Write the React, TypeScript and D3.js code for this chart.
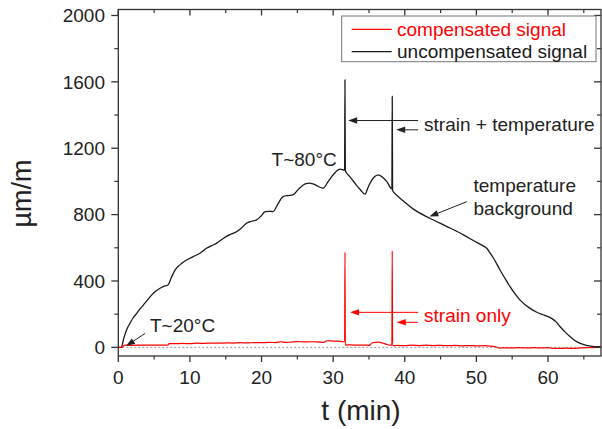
import React from "react";
import * as d3 from "d3";

// ---- data (t in min, value in µm/m) ----
const uncompT = [0, 0.4, 0.8, 1.2, 1.63, 2.1, 2.57, 3.0, 3.49, 4.2, 4.89, 5.6, 6.28, 6.98, 7.4, 7.92, 8.6, 9.3, 10.0, 10.7, 11.4, 12.3, 13.0, 13.7, 14.7, 15.5, 16.5, 17.2, 17.9, 18.6, 19.3, 19.9, 20.5, 21.0, 21.6, 22.3, 23.0, 23.7, 24.4, 25.2, 26.1, 26.7, 27.2, 28.0, 28.6, 29.3, 30.1, 30.96, 31.6, 31.65, 31.7, 32.3, 33.05, 33.8, 34.45, 34.8, 35.15, 35.7, 36.3, 36.9, 37.5, 38.2, 38.25, 38.3, 39.0, 39.6, 41.2, 43.5, 45.9, 48.2, 50.1, 51.0, 51.45, 51.9, 52.4, 53.3, 54.0, 54.7, 55.4, 56.1, 57.5, 58.5, 59.4, 60.5, 61.1, 61.7, 62.4, 63.1, 63.8, 64.5, 65.2, 65.9, 67.4];
const uncompV = [0, 0, 60, 110, 145, 180, 205, 230, 255, 292, 326, 350, 366, 378, 420, 466, 497, 520, 537, 552, 567, 597, 612, 627, 658, 678, 697, 720, 748, 760, 768, 790, 818, 820, 818, 865, 909, 915, 919, 955, 985, 990, 985, 968, 959, 999, 1045, 1074, 1068, 1612, 1064, 1030, 989, 950, 923, 955, 989, 1025, 1040, 1025, 999, 955, 1512, 945, 912, 889, 833, 778, 728, 678, 631, 610, 597, 570, 537, 466, 415, 366, 322, 285, 235, 210, 195, 175, 155, 124, 92, 64, 40, 24, 14, 8, 4];

const compT = [0, 0.5, 0.9, 2, 3, 4, 5, 6, 6.9, 7.1, 8, 9, 10, 11, 12, 13, 14, 15, 16, 17, 18, 19, 20, 21, 22, 22.7, 23.3, 24, 25, 26, 27, 28, 28.7, 29.1, 30, 31, 31.6, 31.65, 31.7, 32.5, 33.5, 34.5, 35, 35.5, 36.3, 37, 37.6, 38.2, 38.25, 38.3, 39, 40, 41, 42, 43, 44, 45, 46, 47, 48, 49, 50, 51, 52, 52.8, 53.3, 54, 55, 56, 57, 58, 59, 60, 60.6, 61.5, 62.5, 63.5, 64.5, 65.5, 67.4];
const compV = [0, 0, 14, 12, 14, 13, 14, 13, 14, 22, 22, 24, 22, 25, 24, 26, 25, 27, 26, 28, 27, 29, 28, 30, 29, 34, 30, 31, 35, 33, 34, 32, 30, 40, 38, 36, 34, 573, 14, 15, 13, 14, 12, 28, 32, 25, 16, 13, 581, 10, 12, 10, 13, 11, 13, 11, 12, 10, 12, 9, 11, 9, 10, 8, 2, -4, -3, -3, -2, -3, -2, -3, -2, -6, -6, -5, -6, -3, -1, 0];

const xTicks = [0, 10, 20, 30, 40, 50, 60];
const yTicks = [0, 400, 800, 1200, 1600, 2000];
const seriesNames = ["compensated signal", "uncompensated signal"];
const seriesColors = ["#ff0000", "#1a1a1a"];

const W = 602, H = 429;
const FONT = "'Liberation Sans', Arial, sans-serif";

export default function App() {
  const x = d3.scaleLinear().domain([0, 67.4]).range([118.3, 601]);
  const y = d3.scaleLinear().domain([-52, 2036]).range([356, 9.5]);
  const [x0, x1] = x.range();
  const [yb, yt] = y.range();

  const line = d3.line<[number, number]>().x((d) => x(d[0])).y((d) => y(d[1])).curve(d3.curveMonotoneX);
  const uncomp = uncompT.map((t, i) => [t, uncompV[i]] as [number, number]);
  const comp = compT.map((t, i) => [t, compV[i]] as [number, number]);

  const xMinor = d3.range(5, 67.4, 10);
  const yMinor = d3.range(200, 2036, 400);

  const arrow = (tx: number, ty: number, hx: number, hy: number, color: string, key: string) => {
    const ax = x(tx), ay = y(ty), bx = x(hx), by = y(hy);
    const ang = Math.atan2(by - ay, bx - ax);
    const L = 9, Wd = 3.2;
    const p1 = [bx - L * Math.cos(ang) + Wd * Math.sin(ang), by - L * Math.sin(ang) - Wd * Math.cos(ang)];
    const p2 = [bx - L * Math.cos(ang) - Wd * Math.sin(ang), by - L * Math.sin(ang) + Wd * Math.cos(ang)];
    return (
      <g key={key}>
        <line x1={ax} y1={ay} x2={bx - 6 * Math.cos(ang)} y2={by - 6 * Math.sin(ang)} stroke={color} strokeWidth={1} />
        <polygon points={`${bx},${by} ${p1[0]},${p1[1]} ${p2[0]},${p2[1]}`} fill={color} />
      </g>
    );
  };

  return (
    <svg width={W} height={H} style={{ position: "absolute", left: 0, top: 0, background: "#fff" }} fontFamily={FONT}>
      {/* zero reference line */}
      <line x1={x0} x2={x1} y1={y(0)} y2={y(0)} stroke="#999" strokeWidth={1} strokeDasharray="2,2" />
      {/* curves */}
      <path d={line(uncomp) || ""} fill="none" stroke={seriesColors[1]} strokeWidth={1.3} />
      <path d={line(comp) || ""} fill="none" stroke={seriesColors[0]} strokeWidth={1.2} />

      {/* frame */}
      <rect x={x0} y={yt} width={x1 - x0} height={yb - yt} fill="none" stroke="#333" strokeWidth={1.3} />

      {/* x ticks */}
      {xTicks.map((t) => (
        <g key={"xt" + t}>
          <line x1={x(t)} x2={x(t)} y1={yb} y2={yb + 6} stroke="#333" strokeWidth={1.3} />
          <line x1={x(t)} x2={x(t)} y1={yt} y2={yt + 6} stroke="#333" strokeWidth={1.3} />
          <text x={x(t)} y={383.5} textAnchor="middle" fontSize={19} fill="#222">{t}</text>
        </g>
      ))}
      {xMinor.map((t) => (
        <g key={"xm" + t}>
          <line x1={x(t)} x2={x(t)} y1={yb} y2={yb + 3.5} stroke="#333" strokeWidth={1.2} />
          <line x1={x(t)} x2={x(t)} y1={yt} y2={yt + 3.5} stroke="#333" strokeWidth={1.2} />
        </g>
      ))}
      {/* y ticks */}
      {yTicks.map((v) => (
        <g key={"yt" + v}>
          <line x1={x0} x2={x0 - 7} y1={y(v)} y2={y(v)} stroke="#333" strokeWidth={1.3} />
          <line x1={x1} x2={x1 - 7} y1={y(v)} y2={y(v)} stroke="#333" strokeWidth={1.3} />
          <text x={105} y={y(v)} dy="0.35em" textAnchor="end" fontSize={19} fill="#222">{v}</text>
        </g>
      ))}
      {yMinor.map((v) => (
        <g key={"ym" + v}>
          <line x1={x0} x2={x0 - 4} y1={y(v)} y2={y(v)} stroke="#333" strokeWidth={1.2} />
          <line x1={x1} x2={x1 - 4} y1={y(v)} y2={y(v)} stroke="#333" strokeWidth={1.2} />
        </g>
      ))}

      {/* axis titles */}
      <text x={361} y={420} textAnchor="middle" fontSize={28} fill="#222">t (min)</text>
      <text transform="translate(31,193.5) rotate(-90)" textAnchor="middle" fontSize={27} fill="#222">µm/m</text>

      {/* legend */}
      <rect x={341.7} y={16} width={254.3} height={45.7} fill="#fff" stroke="#777" strokeWidth={1} />
      {seriesNames.map((n, i) => (
        <g key={n}>
          <line x1={351.7} x2={391.7} y1={29.3 + i * 22.4} y2={29.3 + i * 22.4} stroke={seriesColors[i]} strokeWidth={1.2} />
          <text x={397} y={35.8 + i * 22.4} fontSize={19} fill={seriesColors[i]}>{n}</text>
        </g>
      ))}

      {/* annotations */}
      <text x={x(21.4)} y={y(1094)} fontSize={19} fill="#222">T~80°C</text>
      <text x={x(4.42)} y={y(94)} fontSize={19} fill="#222">T~20°C</text>
      {arrow(3.74, 84, 1.08, 8, "#222", "a20")}

      <text x={x(42.7)} y={y(1311) + 1} fontSize={19} fill="#222">strain + temperature</text>
      {arrow(41.86, 1367, 32.1, 1367, "#222", "a1")}
      {arrow(41.86, 1311, 38.8, 1311, "#222", "a2")}

      <text x={x(42.7)} y={y(153)} fontSize={19} fill="#ff0000">strain only</text>
      {arrow(41.86, 211, 32.36, 211, "#ff0000", "r1")}
      {arrow(41.86, 151, 38.88, 151, "#ff0000", "r2")}

      <text x={x(49.6)} y={y(939)} fontSize={19} fill="#222">temperature</text>
      <text x={x(49.6)} y={y(798)} fontSize={19} fill="#222">background</text>
      {arrow(48.66, 878, 43.44, 788, "#222", "tb")}
    </svg>
  );
}
